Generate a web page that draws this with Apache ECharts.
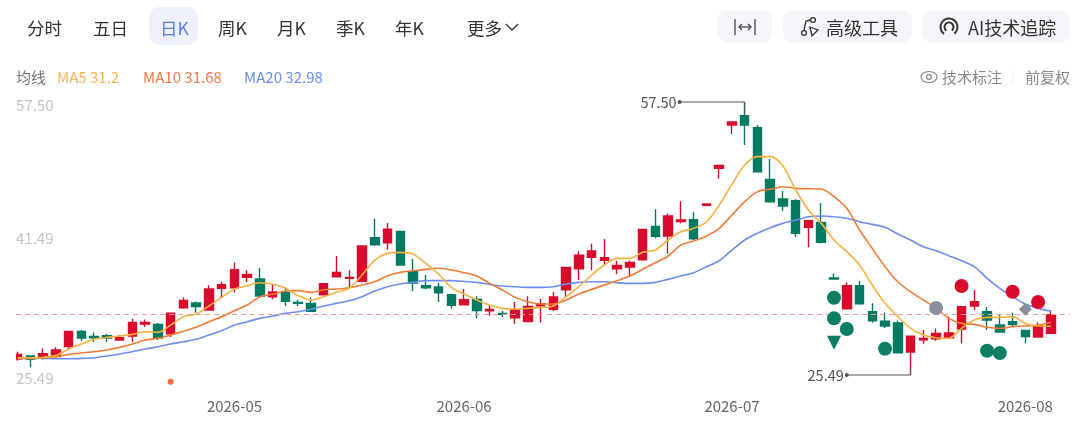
<!DOCTYPE html>
<html><head><meta charset="utf-8">
<style>html,body{margin:0;padding:0;background:#fff}#c{width:1080px;height:424px}</style>
<script src="https://cdn.jsdelivr.net/npm/echarts@6/dist/echarts.min.js"></script>
</head><body><div id="c"></div><script>
const dates = ['2026-04-08','2026-04-09','2026-04-10','2026-04-13','2026-04-14','2026-04-15','2026-04-16','2026-04-17','2026-04-20','2026-04-21','2026-04-22','2026-04-23','2026-04-24','2026-04-27','2026-04-28','2026-04-29','2026-04-30',
'2026-05-06','2026-05-07','2026-05-08','2026-05-11','2026-05-12','2026-05-13','2026-05-14','2026-05-15','2026-05-18','2026-05-19','2026-05-20','2026-05-21','2026-05-22','2026-05-25','2026-05-26','2026-05-27','2026-05-28','2026-05-29',
'2026-06-01','2026-06-02','2026-06-03','2026-06-04','2026-06-05','2026-06-08','2026-06-09','2026-06-10','2026-06-11','2026-06-12','2026-06-15','2026-06-16','2026-06-17','2026-06-18','2026-06-22','2026-06-23','2026-06-24','2026-06-25','2026-06-26','2026-06-29','2026-06-30',
'2026-07-01','2026-07-02','2026-07-03','2026-07-06','2026-07-07','2026-07-08','2026-07-09','2026-07-10','2026-07-13','2026-07-14','2026-07-15','2026-07-16','2026-07-17','2026-07-20','2026-07-21','2026-07-22','2026-07-23','2026-07-24','2026-07-27','2026-07-28','2026-07-29','2026-07-30','2026-07-31',
'2026-08-03','2026-08-04','2026-08-05'];
const opens = [27.36,27.72,27.44,27.64,28.84,30.60,30.01,30.09,29.58,30.05,
31.46,31.42,30.33,33.38,33.93,33.10,35.65,35.72,36.94,36.74,
34.67,35.18,34.00,33.89,34.90,37.01,36.82,36.47,41.59,41.00,
42.33,37.60,35.96,35.80,34.90,33.73,34.36,33.03,32.71,32.20,
31.77,33.61,33.18,35.49,37.95,39.28,38.93,37.95,38.15,39.01,
42.92,41.78,43.47,43.70,45.38,49.72,54.80,55.90,54.49,48.43,
46.12,45.93,42.80,43.39,36.86,33.26,35.96,32.91,31.81,31.58,
28.18,29.62,29.74,29.86,30.87,33.57,32.91,31.35,31.73,30.72,
29.94,30.37];
const closes = [27.91,27.33,27.99,28.42,30.60,29.82,29.86,29.82,29.86,31.66,
31.66,29.82,32.75,34.24,33.53,35.57,36.08,37.84,37.29,34.75,
35.22,34.12,33.89,32.95,36.19,37.52,36.94,40.61,40.77,42.60,
38.38,36.27,35.72,35.14,33.65,34.32,33.06,33.18,32.60,33.10,
33.53,33.81,34.63,38.11,39.55,40.03,39.24,38.34,38.69,42.57,
41.75,44.13,43.66,41.47,45.54,50.07,55.16,54.80,49.33,45.81,
45.30,42.10,43.58,41.04,36.74,35.96,33.85,31.85,31.23,28.10,
30.05,29.78,30.37,30.41,33.49,34.08,31.93,30.52,31.42,30.01,
31.27,32.56];
const lows = [27.17,26.39,27.32,27.64,28.57,29.50,29.35,29.35,29.54,29.35,
31.11,29.58,29.94,33.26,32.79,33.06,34.51,35.18,36.39,34.63,
34.36,33.57,33.57,32.95,34.90,36.97,35.68,36.35,40.65,40.18,
38.38,35.33,35.53,34.04,33.30,33.69,32.13,32.44,32.28,31.50,
31.77,31.66,32.99,34.67,36.62,37.76,38.38,37.29,37.01,38.97,
41.51,39.71,43.27,41.32,45.38,48.51,53.75,52.46,49.29,45.69,
44.72,41.67,40.46,40.92,36.74,33.22,33.73,31.62,31.00,28.10,
25.49,29.16,29.50,29.78,29.19,33.10,30.76,30.48,31.15,29.19,
29.86,30.29];
const highs = [28.22,27.72,28.61,28.73,30.60,30.76,30.48,30.29,30.17,32.09,
32.01,31.58,32.75,34.59,34.12,36.00,36.43,38.69,37.76,38.03,
36.04,35.76,34.32,34.59,36.19,39.44,37.76,40.61,43.82,43.31,
42.33,39.09,37.21,36.27,35.06,35.53,34.75,33.69,33.03,34.04,
34.71,34.39,35.25,38.11,39.99,40.88,41.43,38.89,38.93,42.57,
44.91,44.44,45.85,44.56,45.54,50.07,55.16,57.50,54.80,50.82,
47.06,46.12,43.58,45.62,37.40,36.35,36.50,33.89,32.83,31.89,
30.05,30.76,30.95,32.36,33.49,35.45,33.45,32.63,32.79,30.72,
31.66,33.10];
const ma5 = [27.52,27.52,27.56,27.79,28.53,29.12,29.67,29.90,30.06,30.25,
30.57,30.49,31.35,32.33,32.64,33.58,34.59,35.57,35.96,36.31,
36.12,35.65,34.79,34.28,34.67,35.18,35.65,37.21,38.97,39.75,
39.87,39.67,38.58,37.33,35.77,34.98,34.28,33.69,33.30,33.22,
33.30,33.42,33.58,34.67,35.84,37.21,38.39,39.17,39.17,39.87,
40.15,41.32,42.29,42.68,43.43,45.42,47.84,50.11,51.09,51.09,
49.99,47.18,44.83,43.27,41.32,39.95,38.39,36.04,33.89,32.33,
30.96,30.18,29.86,29.79,30.96,31.93,32.25,32.25,32.33,31.54,
31.23,31.20];
const ma10 = [27.44,27.44,27.52,27.64,27.91,28.07,28.22,28.42,28.73,29.12,
29.59,29.79,30.18,30.61,31.08,31.74,32.33,33.03,33.69,34.67,
34.95,35.34,35.38,35.18,35.49,35.57,35.73,36.04,36.43,37.13,
37.52,37.72,37.88,38.00,37.80,37.49,37.10,36.23,35.45,34.59,
34.08,33.81,33.81,34.28,34.98,35.53,36.04,36.55,37.10,37.88,
38.66,39.44,40.73,41.20,41.79,42.68,44.25,45.81,46.99,47.26,
47.57,47.37,47.34,47.30,46.40,45.03,42.49,40.34,38.19,36.43,
35.26,34.28,33.30,32.13,31.54,31.43,31.08,30.96,31.15,31.23,
31.35,31.68];
const ma20 = [27.44,27.44,27.44,27.40,27.40,27.44,27.52,27.71,27.95,28.22,
28.53,28.81,29.12,29.39,29.67,30.18,30.69,31.35,31.74,32.13,
32.40,32.72,32.91,33.19,33.58,33.89,34.20,34.67,35.34,35.84,
36.16,36.35,36.55,36.55,36.55,36.47,36.35,36.12,35.92,35.84,
35.77,35.77,35.84,36.16,36.35,36.43,36.43,36.31,36.23,36.23,
36.35,36.70,37.10,37.49,38.19,38.89,40.14,41.32,42.10,42.76,
43.27,43.66,44.05,44.13,44.05,43.86,43.47,43.15,42.80,42.02,
41.32,40.53,40.07,39.48,38.89,38.19,36.82,35.65,34.67,33.81,
33.30,32.98];
const priceTicks = [25.49, 41.49, 57.50];
const monthTickDates = ['2026-05-06','2026-06-01','2026-07-01','2026-08-03'];
const refPrice = 32.64;
const greenDots = [[64,34.55],[64,32.13],[65,30.88],[68,28.57],[76,28.34],[77,28.06]];
const greenTriangles = [[64,29.28]];
const redDots = [[74,35.92],[78,35.26],[80,34.05]];
const grayDots = [[72,33.34]];
const grayDiamonds = [[79,33.19]];
const orangeDots = [[12,24.70]];
const highLeader = [[51.9,57.50],[57,57.50],[57,55.90]];
const lowLeader = [[65,25.49],[70,25.49],[70,26.3]];
const labelsMA = ['MA5 31.2','MA10 31.68','MA20 32.98'];
const periodTabs = ['分时','五日','日K','周K','月K','季K','年K','更多'];

const FONT = '"Noto Sans CJK SC","Noto Sans",sans-serif';
const RED='#d90a2c', GREEN='#047a62';
const candleData = dates.map((d,i)=>[i,opens[i],closes[i],lows[i],highs[i]]);
const xy = a => a.map((v,i)=>[i,v]);
const lineS=(name,data,color)=>({type:'line',name,data:xy(data),symbol:'none',smooth:0.3,lineStyle:{color,width:1.6},z:3,silent:true});
const dotS=(data,symbol,size,color,rot)=>({type:'scatter',data,symbol,symbolSize:size,symbolRotate:rot||0,itemStyle:{color,opacity:1},clip:false,z:5,silent:true});
const leader=(pts,label)=>({type:'line',data:pts.map((p,i)=>i===0?{value:p,symbol:'circle',symbolSize:4,
  label:{show:true,position:'left',distance:1,formatter:label,color:'#555',fontSize:14.5,fontFamily:FONT}}:{value:p,symbol:'none'}),
  showAllSymbol:true,lineStyle:{color:'#555',width:1},itemStyle:{color:'#555'},clip:false,z:6,silent:true});

const t=(text,x,y,fs,fill,extra)=>({type:'text',x,y,silent:true,style:Object.assign({text,fontSize:fs,fill,fontFamily:FONT,verticalAlign:'middle',align:'left'},extra||{})});
const rr=(x,y,w,h,r,fill)=>({type:'rect',shape:{x,y,width:w,height:h,r},style:{fill},silent:true,z:-1});
const ln=(x1,y1,x2,y2,c,w)=>({type:'line',shape:{x1,y1,x2,y2},style:{stroke:c,lineWidth:w||1.3},silent:true});
const tabX=[27,93,160,218,277,336,395,467];
const graphic=[
 rr(149,7,49,38,10,'#eef1fc'),
 rr(717,10,55,33,10,'#f5f6f9'),
 rr(783,10,129,33,10,'#f5f6f9'),
 rr(922,10,148,33,10,'#f5f6f9'),
 ...periodTabs.map((s,i)=>t(s,tabX[i],28,17.5,i===2?'#5a7ce6':'#333')),
 {type:'polyline',shape:{points:[[506,24],[512,30],[518,24]]},style:{stroke:'#333',lineWidth:1.4,fill:'none'},silent:true},
 t('均线',16,77,15,'#777'),
 t(labelsMA[0],57,77,15,'#f6b552'),
 t(labelsMA[1],143,77,15,'#f27c45'),
 t(labelsMA[2],244,77,15,'#6d8df0'),
 ln(735,19,735,35,'#444'),ln(755,19,755,35,'#444'),ln(739,27,751,27,'#444'),
 {type:'polyline',shape:{points:[[742,24],[739,27],[742,30]]},style:{stroke:'#444',lineWidth:1.3,fill:'none'},silent:true},
 {type:'polyline',shape:{points:[[748,24],[751,27],[748,30]]},style:{stroke:'#444',lineWidth:1.3,fill:'none'},silent:true},
 {type:'circle',shape:{cx:813,cy:20,r:2.4},style:{fill:'none',stroke:'#333',lineWidth:1.3},silent:true},
 {type:'circle',shape:{cx:804,cy:33,r:2.4},style:{fill:'none',stroke:'#333',lineWidth:1.3},silent:true},
 {type:'polyline',shape:{points:[[810,20],[806,21],[804,30]]},style:{stroke:'#333',lineWidth:1.3,fill:'none'},silent:true},
 {type:'polygon',shape:{points:[[810,27],[818,30],[812,36]]},style:{fill:'none',stroke:'#333',lineWidth:1.3},silent:true},
 t('高级工具',826,28,18,'#333'),
 {type:'arc',shape:{cx:949,cy:27,r:8.5,startAngle:2.2,endAngle:0.9,clockwise:true},style:{fill:'none',stroke:'#333',lineWidth:2},silent:true},
 {type:'arc',shape:{cx:949,cy:27,r:4.5,startAngle:2.2,endAngle:0.9,clockwise:true},style:{fill:'none',stroke:'#333',lineWidth:2},silent:true},
 t('AI技术追踪',968,28,18,'#333'),
 {type:'ellipse',shape:{cx:929,cy:77,rx:8,ry:5.5},style:{fill:'none',stroke:'#888',lineWidth:1.2},silent:true},
 {type:'circle',shape:{cx:929,cy:77,r:2.4},style:{fill:'none',stroke:'#888',lineWidth:1.2},silent:true},
 t('技术标注',942,77,15,'#888'),
 ln(1013,70,1013,84,'#eeeeee',1),
 t('前复权',1025,77,15,'#888'),
 {type:'rect',shape:{x:8,y:345,width:8,height:26},style:{fill:'#fff'},silent:true,z:100}
];

const yLabelStyle={color:'#c4c4c4',fontSize:15,fontFamily:FONT};
const chart=echarts.init(document.getElementById('c'),null,{renderer:'canvas'});
chart.setOption({
 animation:false,
 graphic,
 grid:{left:16,top:102,width:1054,height:273,containLabel:false},
 xAxis:{type:'value',min:-0.125,max:82.5,
  splitLine:{show:false},axisLine:{show:false},axisTick:{show:false},
  axisLabel:{customValues:monthTickDates.map(d=>dates.indexOf(d)),
   formatter:v=>dates[Math.round(v)].slice(0,7),color:'#666',fontSize:15,fontFamily:FONT,margin:24,hideOverlap:false}},
 yAxis:{type:'value',min:priceTicks[0],max:priceTicks[2],
  splitLine:{show:false},axisLine:{show:false},axisTick:{show:false},
  axisLabel:{inside:true,margin:0,customValues:priceTicks,
   formatter:v=>(v===priceTicks[1]?'{m|':'{e|')+v.toFixed(2)+'}',
   rich:{m:Object.assign({},yLabelStyle),e:Object.assign({padding:[6,0,0,0]},yLabelStyle)}}},
 series:[
  {type:'candlestick',data:candleData,encode:{x:0,y:[1,2,3,4]},barWidth:9,clip:true,z:2,silent:true,
   itemStyle:{color:RED,color0:GREEN,borderColor:RED,borderColor0:GREEN,borderWidth:1.4},
   markLine:{silent:true,symbol:'none',label:{show:false},animation:false,lineStyle:{type:[5,4],color:'#f29c9c',width:1},data:[{yAxis:refPrice}]}},
  lineS('MA20',ma20,'#6d8df0'),
  lineS('MA10',ma10,'#f27c35'),
  lineS('MA5',ma5,'#f6b13f'),
  dotS(greenDots,'circle',14,'#0a7f64'),
  dotS(greenTriangles,'triangle',14,'#0a7f64',180),
  dotS(redDots,'circle',14,'#d90a2c'),
  dotS(grayDots,'circle',14,'#8b8f99'),
  dotS(grayDiamonds,'diamond',13,'#8b8f99'),
  dotS(orangeDots,'circle',6,'#f5693c'),
  leader(highLeader,'57.50'),
  leader(lowLeader,'25.49')
 ]
});
</script></body></html>
